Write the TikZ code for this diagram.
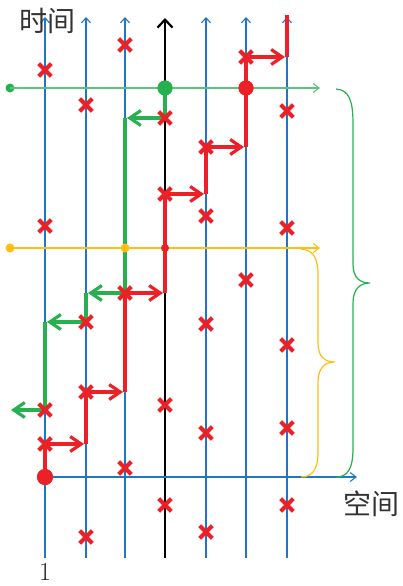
\documentclass[tikz,border=0pt]{standalone}
\usepackage{fontspec}
\newfontfamily\cjk{Noto Sans CJK SC}
\usetikzlibrary{arrows.meta,shapes.misc}
\definecolor{bluec}{RGB}{31,118,196}
\definecolor{redc}{RGB}{236,32,39}
\definecolor{greenc}{RGB}{38,176,80}
\definecolor{lgreenc}{RGB}{92,196,122}
\definecolor{orangec}{RGB}{255,190,20}
\tikzset{
 bl/.style={draw=bluec, line width=1.4pt, -{Straight Barb[length=5pt,width=9pt,line width=1.1pt]}},
 bk/.style={draw=black, line width=2.2pt, -{Straight Barb[length=8pt,width=15pt]}},
 xm/.style={cross out, draw=redc, line width=4.2pt, minimum size=8.5pt, inner sep=0pt},
 rp/.style={draw=redc, line width=3.2pt},
 ra/.style={rp, shorten >=2pt, -{Straight Barb[length=11pt,width=15pt]}},
 gp/.style={draw=greenc, line width=3.2pt},
 ga/.style={gp, shorten >=2pt, -{Straight Barb[length=11pt,width=15pt]}},
 dotn/.style={circle, inner sep=0pt, minimum size=#1},
 hl/.style={line width=1.5pt, -{Straight Barb[length=6pt,width=9pt,line width=1.1pt]}},
 brace/.style={line width=1.2pt},
 lbl/.style={inner sep=0pt, font=\cjk\fontsize{28}{28}\selectfont, text=black!80}
}
\begin{document}
\begin{tikzpicture}[x=1pt,y=-1pt]
\useasboundingbox (0,0) rectangle (402,586);
% blue world lines
\foreach \i/\x in {1/45,2/86,3/125,5/206,6/246,7/287}{
  \coordinate (b\i) at (\x,558);
  \coordinate (t\i) at (\x,17);
  \draw[bl] (b\i) -- (t\i);
}
% black line
\coordinate (bb) at (165,558);
\coordinate (bt) at (165,18);
\draw[bk] (bb) -- (bt);
% horizontal lines
\coordinate (ghe) at (320,88);
\coordinate (ohe) at (320,248);
\coordinate (axe) at (357,477);
\node[dotn=9pt, fill=greenc] (gs) at (10,88) {};
\node[dotn=9pt, fill=orangec] (os) at (10,248) {};
\node[dotn=16pt, fill=redc] (rd0) at (45,477) {};
\draw[hl, draw=lgreenc] (gs.center) -- (ghe);
\draw[hl, draw=orangec] (os.center) -- (ohe);
\draw[hl, draw=bluec] (rd0.center) -- (axe);
% braces
\draw[brace, draw=greenc] (336,89) .. controls (349,90) and (353,100) .. (353,124)
  -- (353,264) .. controls (353,278) and (360,283) .. (370,283)
  .. controls (360,283) and (353,289) .. (353,303)
  -- (353,448) .. controls (353,470) and (347,477) .. (336,477);
\draw[brace, draw=orangec] (301,249) .. controls (313,250) and (318,258) .. (318,274)
  -- (318,343) .. controls (318,357) and (325,362) .. (335,362)
  .. controls (325,362) and (318,368) .. (318,382)
  -- (318,452) .. controls (318,470) and (312,477) .. (301,477);
% crosses (positions)
\foreach \n/\x/\y in {1/45/70,2/86/105,3/125/45,4/165/118,5/246/57,6/287/111,7/206/147,
  8/165/194,9/206/216,10/45/226,11/287/228,12/125/293,13/246/280,14/206/324,15/86/322,
  16/287/345,17/86/392,18/165/405,19/45/410,20/45/444,21/206/433,22/287/428,23/125/468,
  24/165/505,25/86/537,26/206/532,27/287/505}{
  \coordinate (x\n) at (\x,\y);
}
\node[dotn=15pt, fill=greenc] (gd) at (165,88) {};
\node[dotn=15pt, fill=redc] (rd) at (246,88) {};
% red path
\coordinate (r1) at (86,444);
\coordinate (r2) at (125,392);
\coordinate (r3) at (165,293);
\coordinate (r4) at (206,194);
\coordinate (r5) at (246,147);
\coordinate (r6) at (287,57);
\coordinate (r7) at (287,15);
\draw[rp] (rd0.center) -- (x20);
\draw[ra] (x20) -- (r1);
\draw[rp] (r1) -- (x17);
\draw[ra] (x17) -- (r2);
\draw[rp] (r2) -- (x12);
\draw[ra] (x12) -- (r3);
\draw[rp] (r3) -- (x8);
\draw[ra] (x8) -- (r4);
\draw[rp] (r4) -- (x7);
\draw[ra] (x7) -- (r5);
\draw[rp] (r5) -- (x5);
\draw[ra] (x5) -- (r6);
\draw[rp] (r6) -- (r7);
% green path
\coordinate (g1) at (125,118);
\coordinate (g2) at (86,293);
\coordinate (g3) at (45,322);
\coordinate (g4) at (9,410);
\draw[gp] (gd.center) -- (x4);
\draw[ga] (x4) -- (g1);
\draw[gp] (g1) -- (x12);
\draw[ga] (x12) -- (g2);
\draw[gp] (g2) -- (x15);
\draw[ga] (x15) -- (g3);
\draw[gp] (g3) -- (x19);
\draw[ga] (x19) -- (g4);
% cross marks
\foreach \n in {1,...,27}{
  \node[xm] (cx\n) at (x\n) {};
}
% dots on top
\node[dotn=15pt, fill=greenc] (gd2) at (gd) {};
\node[dotn=15pt, fill=redc] (rd2) at (rd) {};
\node[dotn=9pt, fill=orangec] (oc) at (125,248) {};
\node[dotn=8pt, fill=redc] (rc) at (165,248) {};
\node[dotn=16pt, fill=redc] (rd3) at (rd0) {};
% labels
\node[lbl] (tl) at (47,21) {时间};
\node[lbl] (sl) at (371,504) {空间};
\node[inner sep=0pt, font=\fontsize{26}{26}\selectfont, text=black!85] (one) at (45,572) {1};
\end{tikzpicture}
\end{document}
